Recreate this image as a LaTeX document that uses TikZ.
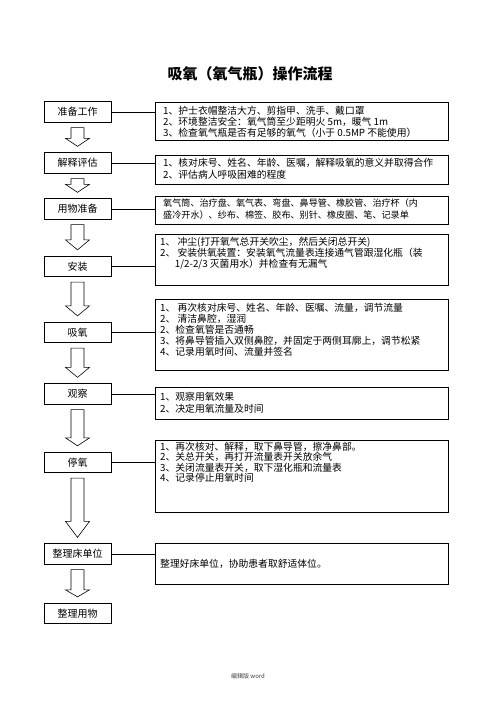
\documentclass[tikz,border=0pt]{standalone}
\usepackage{fontspec}
\setmainfont{Noto Sans CJK SC}
\usetikzlibrary{calc}
\tikzset{
  lbox/.style={draw, line width=0.8pt, minimum width=67pt, minimum height=20.5pt, inner sep=0pt, font=\fontsize{10}{12}\selectfont},
  rbox/.style={draw, line width=0.8pt, minimum width=293pt, anchor=north west, inner sep=0pt},
  txt/.style={anchor=north west, inner sep=0pt, align=left, font=\fontsize{9.8}{11}\selectfont},
  link/.style={line width=0.8pt},
  barrowline/.style={line width=0.6pt}
}
\newcommand\blockarrow[3]{%
  \draw[barrowline] let \p1=(#1.south), \p2=(#2.north) in
  (\x1-6.5pt,\y1-5pt) -- (\x1+6.5pt,\y1-5pt) -- (\x1+6.5pt,\y2+6pt+#3) -- (\x1+12pt,\y2+6pt+#3)
  -- (\x1,\y2+6pt) -- (\x1-12pt,\y2+6pt+#3) -- (\x1-6.5pt,\y2+6pt+#3) -- cycle;}
\begin{document}
\begin{tikzpicture}[x=1pt,y=-1pt]
\useasboundingbox (0,0) rectangle (496,702);
\fill[white] (0,0) rectangle (496,702);

\node[font=\fontsize{15}{18}\selectfont\bfseries] (title) at (250,74) {吸氧（氧气瓶）操作流程};

% left column
\node[lbox] (l1) at (77.5,112) {准备工作};
\node[lbox] (l2) at (77.5,163) {解释评估};
\node[lbox] (l3) at (77.5,209) {用物准备};
\node[lbox] (l4) at (77.5,266.5) {安装};
\node[lbox] (l5) at (77.5,332.5) {吸氧};
\node[lbox] (l6) at (77.5,394) {观察};
\node[lbox] (l7) at (77.5,462.5) {停氧};
\node[lbox] (l8) at (77.5,554) {整理床单位};
\node[lbox] (l9) at (77.5,613.5) {整理用物};

% right boxes
\node[rbox, minimum height=38pt] (r1) at (155,102) {};
\node[rbox, minimum height=29pt] (r2) at (155,155) {};
\node[rbox, minimum height=28pt] (r3) at (155,196) {};
\node[rbox, minimum height=51pt] (r4) at (155,234) {};
\node[rbox, minimum height=71pt] (r5) at (155,299) {};
\node[rbox, minimum height=32pt] (r6) at (155,387) {};
\node[rbox, minimum height=72pt] (r7) at (155,440) {};
\node[rbox, minimum height=41pt] (r8) at (155,543) {};

% texts
\node[txt, font=\fontsize{9.8}{11}\selectfont] (t1) at (163,106) {1、护士衣帽整洁大方、剪指甲、洗手、戴口罩\\2、环境整洁安全：氧气筒至少距明火 5m，暖气 1m\\3、检查氧气瓶是否有足够的氧气（小于 0.5MP 不能使用）};
\node[txt, font=\fontsize{9.8}{12}\selectfont] (t2) at (163,158) {1、核对床号、姓名、年龄、医嘱，解释吸氧的意义并取得合作\\2、评估病人呼吸困难的程度};
\node[txt, font=\fontsize{9.1}{12}\selectfont] (t3) at (163,199) {氧气筒、治疗盘、氧气表、弯盘、鼻导管、橡胶管、治疗杯（内\\盛冷开水）、纱布、棉签、胶布、别针、橡皮圈、笔、记录单};
\node[txt, font=\fontsize{9.8}{11}\selectfont] (t4) at (160,237) {1、\ 冲尘(打开氧气总开关吹尘，然后关闭总开关)\\2、\ 安装供氧装置：安装氧气流量表连接通气管跟湿化瓶（装\\\hspace*{1.5em}1/2-2/3 灭菌用水）并检查有无漏气};
\node[txt, font=\fontsize{9.8}{11}\selectfont] (t5) at (160,303) {1、\ 再次核对床号、姓名、年龄、医嘱、流量，调节流量\\2、\ 清洁鼻腔，湿润\\2、检查氧管是否通畅\\3、将鼻导管插入双侧鼻腔，并固定于两侧耳廓上，调节松紧\\4、记录用氧时间、流量并签名};
\node[txt, font=\fontsize{9.8}{12}\selectfont] (t6) at (160,392) {1、观察用氧效果\\2、决定用氧流量及时间};
\node[txt, font=\fontsize{9.8}{10.5}\selectfont] (t7) at (160,442) {1、再次核对、解释，取下鼻导管，擦净鼻部。\\2、关总开关，再打开流量表开关放余气\\3、关闭流量表开关，取下湿化瓶和流量表\\4、记录停止用氧时间};
\node[txt, anchor=west] (t8) at (160,564) {整理好床单位，协助患者取舒适体位。};

% connectors
\foreach \i in {1,...,8} {\draw[link] (l\i.east) -- (l\i.east -| r\i.west);}

% block arrows
\blockarrow{l1}{l2}{8pt}
\blockarrow{l2}{l3}{8pt}
\blockarrow{l3}{l4}{10pt}
\blockarrow{l4}{l5}{10pt}
\blockarrow{l5}{l6}{10pt}
\blockarrow{l6}{l7}{8pt}
\blockarrow{l7}{l8}{16pt}
\blockarrow{l8}{l9}{7pt}

\node[font=\fontsize{6}{7}\selectfont, text=black!75] (foot) at (248,676) {编辑版 word};
\end{tikzpicture}
\end{document}
